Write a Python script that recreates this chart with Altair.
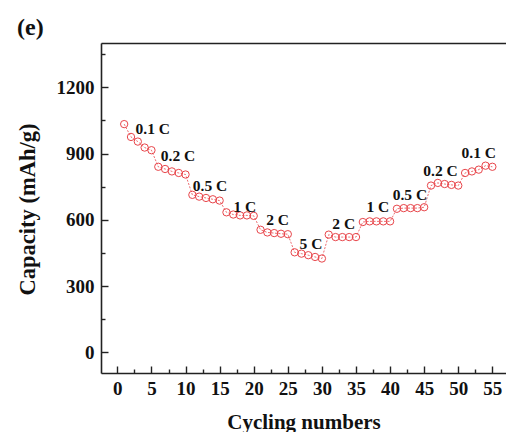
import altair as alt
import pandas as pd

# ---- data ----
cycles = list(range(1, 56))
capacity = [1033, 975, 954, 927, 915,
            840, 830, 819, 812, 805,
            713, 705, 699, 693, 687,
            634, 624, 620, 620, 618,
            555, 543, 540, 537, 535,
            453, 447, 440, 432, 425,
            533, 522, 522, 522, 522,
            590, 593, 593, 593, 593,
            650, 653, 653, 653, 657,
            755, 767, 762, 758, 755,
            812, 819, 827, 845, 840]
rate_labels = ["0.1 C", "0.2 C", "0.5 C", "1 C", "2 C", "5 C",
               "2 C", "1 C", "0.5 C", "0.2 C", "0.1 C"]
label_cycle = [5.2, 8.9, 13.6, 18.7, 23.5, 28.4, 33.2, 38.2, 42.9, 47.4, 53.0]
label_capacity = [1011, 889, 755, 660, 597, 489, 583, 656, 714, 821, 902]
x_major_ticks = [0, 5, 10, 15, 20, 25, 30, 35, 40, 45, 50, 55]
x_all_ticks = [0, 2.5, 5, 7.5, 10, 12.5, 15, 17.5, 20, 22.5, 25, 27.5, 30,
               32.5, 35, 37.5, 40, 42.5, 45, 47.5, 50, 52.5, 55]
y_major_ticks = [0, 300, 600, 900, 1200]
y_all_ticks = [0, 150, 300, 450, 600, 750, 900, 1050, 1200, 1350]

df = pd.DataFrame({"cycle": cycles, "capacity": capacity})
lab = pd.DataFrame({"cycle": label_cycle, "capacity": label_capacity, "text": rate_labels})

FONT = "Liberation Serif"
RED = "#e8454a"
W, H = 405, 330

xs = alt.Scale(domain=[-2.4, 57.0], nice=False, zero=False)
ys = alt.Scale(domain=[-93, 1400], nice=False, zero=False)

# layer 1: line with bottom/left labelled axes (domain + labels only)
line = alt.Chart(df).mark_line(color=RED, strokeWidth=0.8, strokeDash=[2, 1.5]).encode(
    x=alt.X("cycle:Q", scale=xs,
            axis=alt.Axis(orient="bottom", values=x_major_ticks, ticks=False, tickSize=0,
                          grid=False, domainColor="#222", domainWidth=1.6, format="d",
                          labelFont=FONT, labelFontSize=19, labelFontWeight="bold",
                          labelColor="#111", labelPadding=6, labelFlush=False,
                          title="Cycling numbers", titleFont=FONT, titleFontSize=21,
                          titleFontWeight="bold", titleColor="#111",
                          titleBaseline="top", titleY=38)),
    y=alt.Y("capacity:Q", scale=ys,
            axis=alt.Axis(orient="left", values=y_major_ticks, ticks=False, tickSize=0,
                          grid=False, domainColor="#222", domainWidth=1.6, format="d",
                          labelFont=FONT, labelFontSize=19, labelFontWeight="bold",
                          labelColor="#111", labelPadding=7, labelFlush=False,
                          title="Capacity (mAh/g)", titleFont=FONT, titleFontSize=22.5,
                          titleFontWeight="bold", titleColor="#111",
                          titleBaseline="middle", titleX=-74, titleY=166)),
)

# layer 2: points with inward ticks (major + minor)
points = alt.Chart(df).mark_point(shape="circle", filled=False, size=54,
                                  strokeWidth=1, color=RED, opacity=1).encode(
    x=alt.X("cycle:Q", scale=xs,
            axis=alt.Axis(orient="top", offset=-H, values=x_all_ticks, labels=False,
                          domain=False, grid=False, tickColor="#222", tickWidth=1.4,
                          tickSize={"condition": {"test": "datum.value % 5 === 0", "value": 7},
                                    "value": 4},
                          title=None)),
    y=alt.Y("capacity:Q", scale=ys,
            axis=alt.Axis(orient="right", offset=-W, values=y_all_ticks, labels=False,
                          domain=False, grid=False, tickColor="#222", tickWidth=1.4,
                          tickSize={"condition": {"test": "datum.value % 300 === 0", "value": 7},
                                    "value": 4},
                          title=None)),
)

# layer 3: rate labels, with top frame line
texts = alt.Chart(lab).mark_text(font=FONT, fontSize=15.5, fontWeight="bold",
                                 color="#111", align="center", baseline="middle").encode(
    x=alt.X("cycle:Q", scale=xs,
            axis=alt.Axis(orient="top", labels=False, ticks=False, grid=False,
                          domainColor="#222", domainWidth=1.6, title=None)),
    y=alt.Y("capacity:Q", scale=ys, axis=None),
    text="text:N",
)

chart = alt.layer(line, points, texts).resolve_axis(x="independent", y="independent").properties(
    width=W, height=H,
    title=alt.TitleParams("(e)", anchor="start", dx=1, dy=26, font=FONT, fontSize=24,
                          fontWeight="bold", color="#111", baseline="alphabetic", offset=10),
    autosize=alt.AutoSizeParams(type="none"),
    padding={"left": 101, "top": 43, "right": 0, "bottom": 59},
).configure_view(stroke=None).configure(background="white")

chart.save("out.html", embed_options={"renderer": "svg", "actions": False})
